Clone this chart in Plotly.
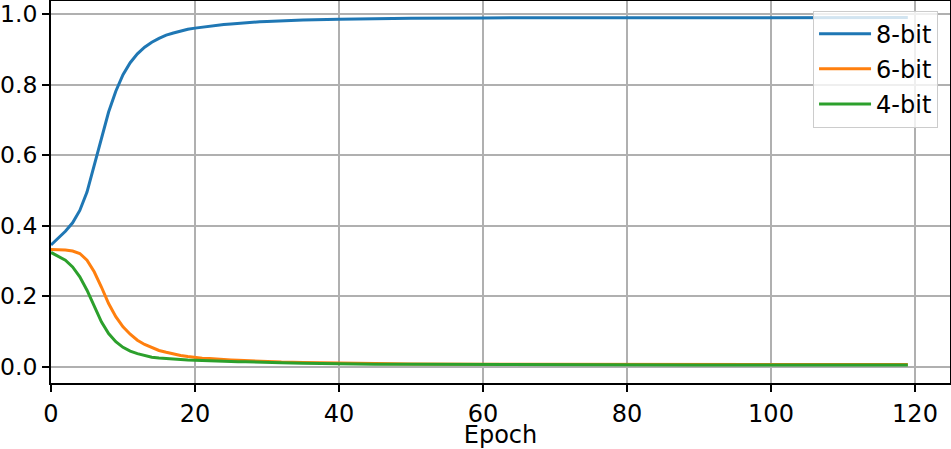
import plotly.graph_objects as go

# epochs (dense at the start, sparser on the flat tail)
epochs = list(range(0, 31)) + [32, 35, 40, 45, 50, 60, 70, 80, 90, 100, 110, 119]

acc_8bit = [0.345, 0.364, 0.384, 0.408, 0.443, 0.495, 0.571, 0.651, 0.722, 0.781,
            0.828, 0.862, 0.887, 0.906, 0.920, 0.931, 0.940, 0.946, 0.952, 0.957,
            0.960, 0.963, 0.966, 0.968, 0.970, 0.972, 0.974, 0.975, 0.977, 0.978,
            0.979, 0.981, 0.983, 0.985, 0.987, 0.988, 0.989, 0.989, 0.990, 0.990,
            0.990, 0.990, 0.990]
acc_6bit = [0.332, 0.332, 0.331, 0.328, 0.321, 0.302, 0.269, 0.226, 0.179, 0.142,
            0.113, 0.092, 0.075, 0.063, 0.054, 0.046, 0.041, 0.036, 0.032, 0.029,
            0.026, 0.024, 0.023, 0.021, 0.020, 0.019, 0.018, 0.017, 0.016, 0.015,
            0.014, 0.013, 0.012, 0.010, 0.009, 0.008, 0.007, 0.007, 0.006, 0.006,
            0.006, 0.006, 0.006]
acc_4bit = [0.324, 0.314, 0.302, 0.283, 0.255, 0.217, 0.170, 0.127, 0.094, 0.071,
            0.055, 0.044, 0.037, 0.031, 0.027, 0.025, 0.023, 0.021, 0.020, 0.019,
            0.018, 0.017, 0.016, 0.016, 0.015, 0.015, 0.014, 0.014, 0.013, 0.013,
            0.012, 0.011, 0.010, 0.008, 0.007, 0.007, 0.006, 0.006, 0.005, 0.005,
            0.005, 0.005, 0.005]

series = [("8-bit", acc_8bit, "#1f77b4"),
          ("6-bit", acc_6bit, "#ff7f0e"),
          ("4-bit", acc_4bit, "#2ca02c")]

FS = 24

fig = go.Figure()
for name, vals, col in series:
    fig.add_trace(go.Scatter(x=epochs, y=vals, name=name, mode="lines",
                             legendgroup=name,
                             line=dict(color=col, width=3)))

axis_style = dict(showline=True, linecolor="black", linewidth=1.8, mirror=True,
                  ticks="outside", ticklen=7, tickwidth=1.8, tickcolor="black",
                  showgrid=True, gridcolor="#b0b0b0", gridwidth=1.8,
                  zeroline=False, automargin=False)

fig.update_xaxes(range=[0, 124.86], dtick=20, tick0=0, ticklabelstandoff=1,
                 tickfont=dict(size=FS, color="black"),
                 title=dict(text="Epoch", font=dict(size=FS, color="black"), standoff=5),
                 **axis_style)
fig.update_yaxes(range=[-0.0462, 1.0369], dtick=0.2, tick0=0, tickformat=".1f",
                 ticklabelstandoff=0, tickfont=dict(size=23.5, color="black"),
                 **axis_style)

fig.update_layout(
    width=951, height=449,
    margin=dict(l=51, r=1, t=1, b=66),
    plot_bgcolor="white", paper_bgcolor="white",
    font=dict(family="DejaVu Sans", size=FS, color="black"),
    showlegend=True,
    legend=dict(x=0.9867, y=0.975, xanchor="right", yanchor="top",
                bgcolor="rgba(255,255,255,0.8)", bordercolor="#cccccc",
                borderwidth=1, font=dict(size=FS), tracegroupgap=1,
                itemwidth=52),
)

# page body has a default 8px margin, drop it so the figure sits at 0,0
fig.write_html("out.html", config={"displayModeBar": False},
               post_script="document.body.style.margin='0';")
